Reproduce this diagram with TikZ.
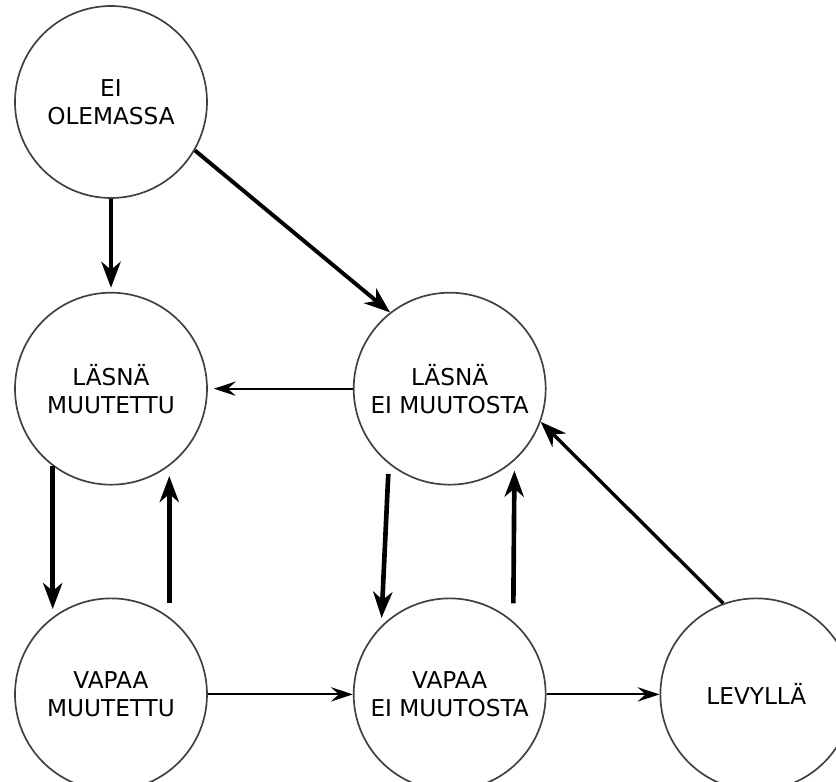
\documentclass[tikz,border=0pt]{standalone}
\usepackage{fontspec}
\setmainfont{DejaVu Sans}
\usetikzlibrary{calc,positioning,arrows.meta}
\tikzstyle{state} = [draw=black!75, line width=1.2pt, circle, 
    minimum size=4.8cm, inner sep=0pt, align=center]
\tikzstyle{heavy} = [line width=3.3pt, -{Stealth[length=6.5mm,width=4.8mm,inset=2mm]}]
\tikzstyle{light} = [line width=1.3pt, -{Stealth[length=5.5mm,width=3.6mm,inset=2mm]}]

\begin{document}
\begin{tikzpicture}[font=\fontsize{16.5}{20}\selectfont]
    \useasboundingbox (-2.775,2.55) rectangle +(20.9,-19.55);

    \node (eiolemassa) [state] at (0,0) {EI\\OLEMASSA};
    \node (lasnamuut) [state, below=2.325cm of eiolemassa] {LÄSNÄ\\MUUTETTU};
    \node (lasnaei) [state, right=3.625cm of lasnamuut] {LÄSNÄ\\EI MUUTOSTA};
    \node (vapaamuut) [state, below=2.8cm of lasnamuut] {VAPAA\\MUUTETTU};
    \node (vapaaei) [state, below=2.8cm of lasnaei] {VAPAA\\EI MUUTOSTA};
    \node (levylla) [state, right=2.825cm of vapaaei] {LEVYLLÄ};

% heavy transitions
\draw[heavy, shorten >=1mm] (eiolemassa) -- (lasnamuut);
\draw[heavy, line width=2.8pt] (eiolemassa.330) -- (lasnaei.128);
\draw[heavy, shorten >=2mm] (lasnamuut.233) -- (vapaamuut.127);
\draw[heavy, shorten <=3.5mm, shorten >=2.5mm] (vapaamuut.53) -- (lasnamuut.307);
\draw[heavy, shorten <=2.5mm, shorten >=2mm] (lasnaei.231) -- (vapaaei.135);
\draw[heavy, shorten <=4.5mm, shorten >=2.5mm] (vapaaei.49) -- (lasnaei.312);
\draw[heavy, line width=2.4pt] (levylla.110) -- (lasnaei.340);

% light transitions
\draw[light, shorten >=1.5mm] (lasnaei) -- (lasnamuut);
\draw[light] (vapaamuut) -- (vapaaei);
\draw[light] (vapaaei) -- (levylla);
\end{tikzpicture}
\end{document}
